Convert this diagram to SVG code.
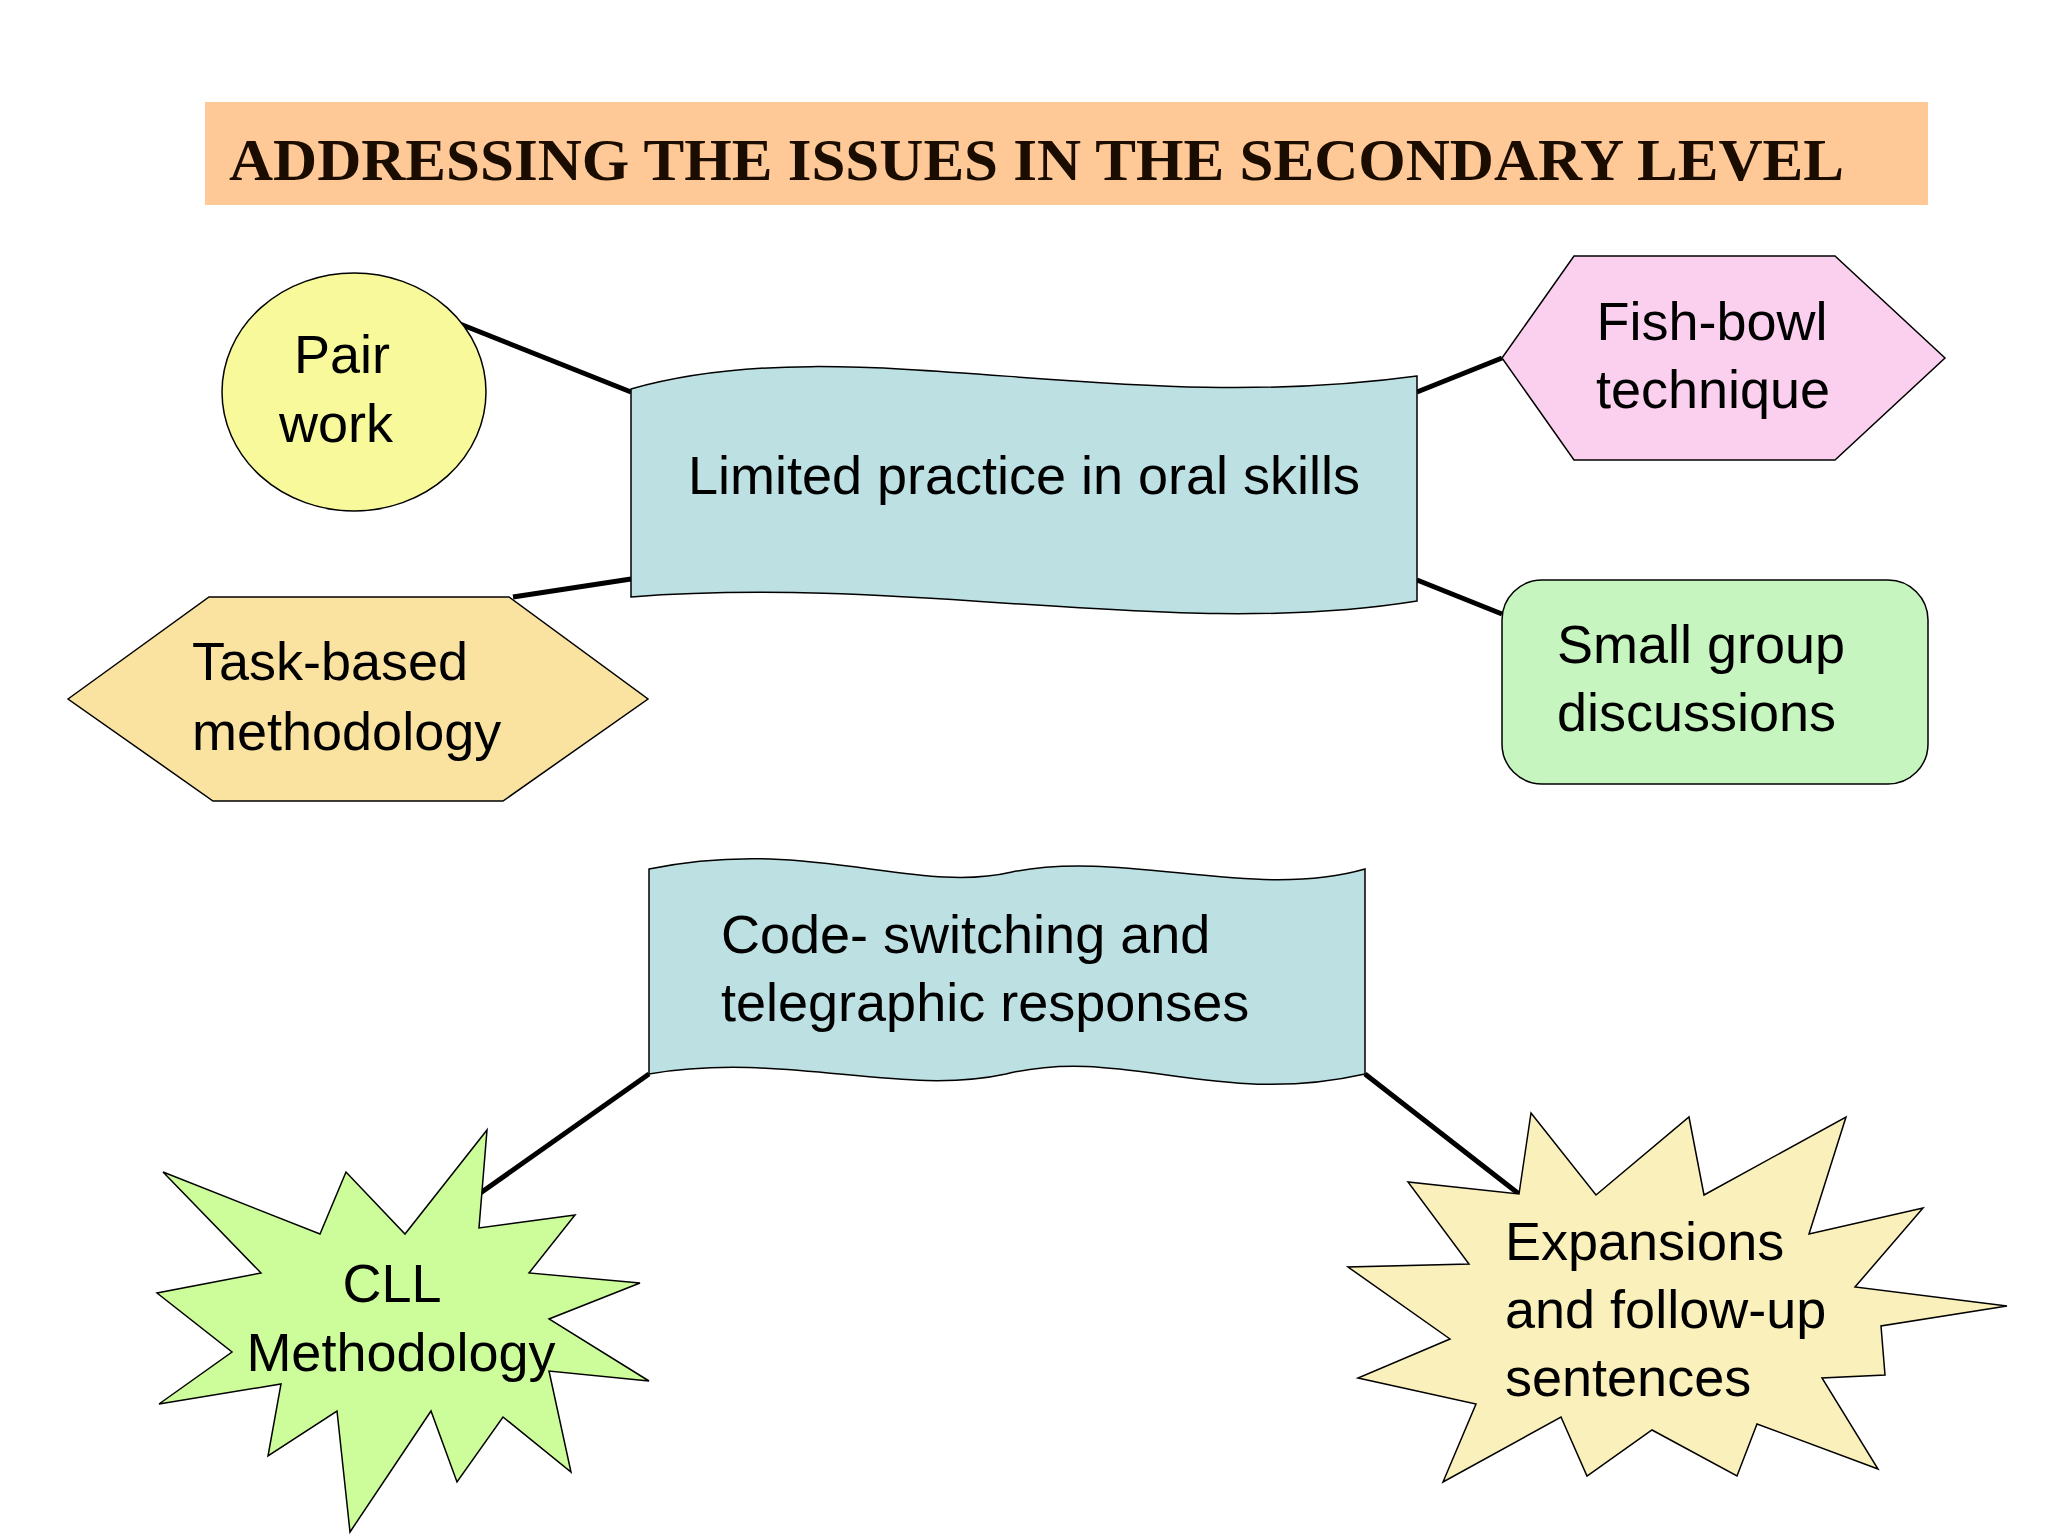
<svg xmlns="http://www.w3.org/2000/svg" width="2048" height="1536" viewBox="0 0 2048 1536">
<style>
.s{stroke:#000;stroke-width:1.5}
.t{font-family:"Liberation Sans",Arial,sans-serif;font-size:54px;fill:#000}
.c{stroke:#000;stroke-width:5;fill:none}
</style>
<rect width="2048" height="1536" fill="#fff"/>
<g id="title">
<rect x="205" y="102" width="1723" height="103" fill="#ffc997"/>
<text x="229" y="180" font-family="Liberation Serif,serif" font-weight="bold" font-size="60" textLength="1615" lengthAdjust="spacingAndGlyphs" fill="#1a0d00">ADDRESSING THE ISSUES IN THE SECONDARY LEVEL</text>
</g>
<g id="connectors">
<line class="c" x1="460" y1="324" x2="631" y2="392"/>
<line class="c" x1="513" y1="597" x2="631" y2="579"/>
<line class="c" x1="1417" y1="392" x2="1502" y2="358"/>
<line class="c" x1="1417" y1="580" x2="1502" y2="614"/>
<line class="c" x1="649" y1="1074" x2="479" y2="1194"/>
<line class="c" x1="1365" y1="1074" x2="1519" y2="1194"/>
</g>
<g id="pair">
<ellipse class="s" cx="354" cy="392" rx="132" ry="119" fill="#f7f99a"/>
<text class="t" x="342" y="373" text-anchor="middle">Pair</text>
<text class="t" x="336" y="442" text-anchor="middle">work</text>
</g>
<g id="oral">
<path class="s" fill="#bde0e3" d="M631,389 C849,327 1110,418 1417,376 L1417,601 C1175,640 914,575 631,597 Z"/>
<text class="t" x="1024" y="494" text-anchor="middle">Limited practice in oral skills</text>
</g>
<g id="fishbowl">
<polygon class="s" fill="#fbd0ef" points="1502,358 1574,256 1835,256 1945,358 1835,460 1574,460"/>
<text class="t" x="1712" y="340" text-anchor="middle">Fish-bowl</text>
<text class="t" x="1713" y="408" text-anchor="middle">technique</text>
</g>
<g id="smallgroup">
<rect class="s" fill="#c6f5bf" x="1502" y="580" width="426" height="204" rx="40"/>
<text class="t" x="1557" y="663">Small group</text>
<text class="t" x="1557" y="731">discussions</text>
</g>
<g id="taskbased">
<polygon class="s" fill="#fae3a0" points="68,699 209,597 509,597 648,699 503,801 213,801"/>
<text class="t" x="192" y="680">Task-based</text>
<text class="t" x="192" y="750">methodology</text>
</g>
<g id="codeswitch">
<path class="s" fill="#bde0e3" d="M649,869 C810,836 914,895 1012,872 C1123,849 1254,901 1365,869 L1365,1074 C1215,1108 1123,1045 1006,1074 C901,1097 784,1051 649,1074 Z"/>
<text class="t" x="721" y="953">Code- switching and</text>
<text class="t" x="721" y="1021">telegraphic responses</text>
</g>
<g id="cll">
<polygon class="s" fill="#cdfd9a" points="487,1130 479,1228 575,1215 529,1273 640,1283 549,1319 649,1381 549,1371 571,1472 503,1417 457,1482 431,1411 350,1532 337,1411 268,1456 281,1384 159,1404 232,1352 157,1293 261,1273 163,1172 320,1234 346,1172 405,1234"/>
<text class="t" x="392" y="1302" text-anchor="middle">CLL</text>
<text class="t" x="401" y="1371" text-anchor="middle">Methodology</text>
</g>
<g id="expansions">
<polygon class="s" fill="#faf0bb" points="1531,1113 1596,1195 1689,1117 1704,1195 1846,1117 1809,1234 1923,1208 1855,1287 2007,1306 1881,1326 1885,1375 1822,1378 1878,1469 1757,1424 1737,1476 1652,1430 1587,1476 1561,1417 1443,1482 1476,1404 1358,1378 1450,1339 1348,1267 1469,1264 1408,1182 1519,1194"/>
<text class="t" x="1505" y="1260">Expansions</text>
<text class="t" x="1505" y="1328">and follow-up</text>
<text class="t" x="1505" y="1396">sentences</text>
</g>
</svg>
